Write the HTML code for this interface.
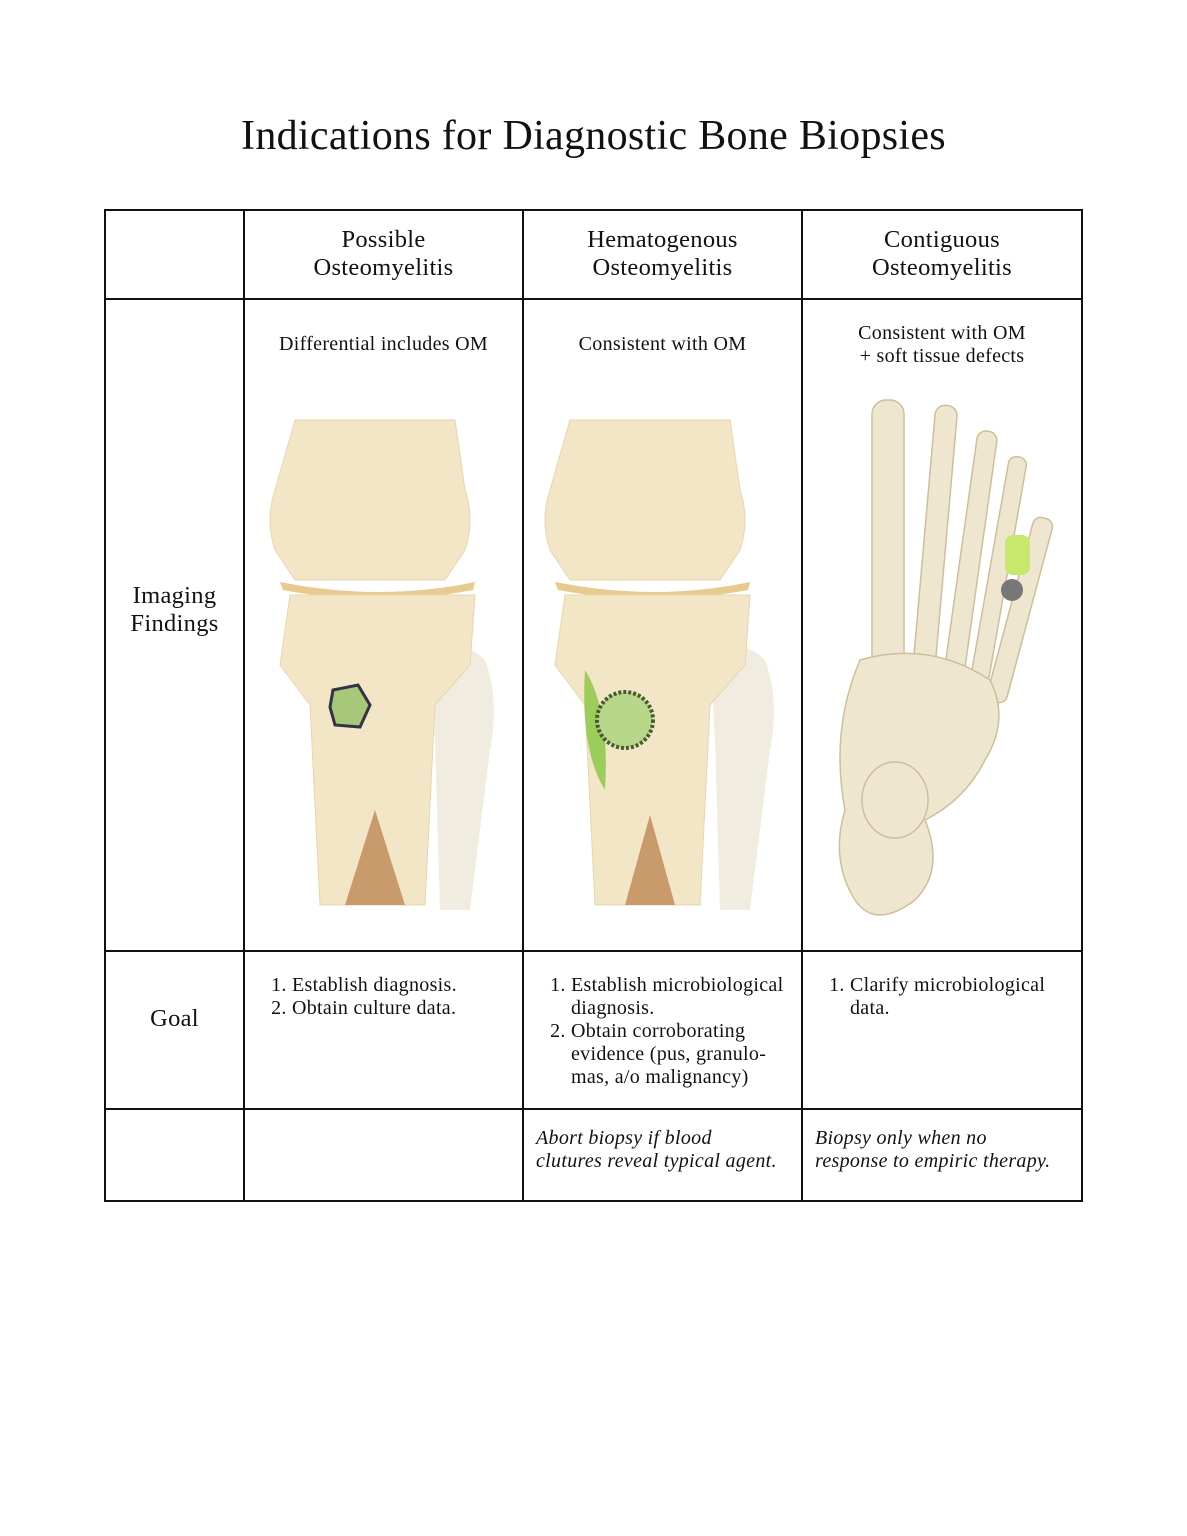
<!DOCTYPE html>
<html><head><meta charset="utf-8"><style>
body{margin:0;background:#fff;width:1187px;height:1536px;position:relative;font-family:"Liberation Serif",serif;color:#111;overflow:hidden}
.t{position:absolute;white-space:nowrap}
.c{text-align:center}
.h{font-size:24.5px;line-height:28px;letter-spacing:0.3px}
.s{font-size:20px;line-height:23px;letter-spacing:0.3px}
ol{margin:0;padding-left:20px}
</style></head><body>
<div class="t c" style="left:0;width:1187px;top:112px;font-size:42px;letter-spacing:0.3px">Indications for Diagnostic Bone Biopsies</div>
<svg width="1187" height="1536" style="position:absolute;left:0;top:0">
<g stroke="#111" stroke-width="2" fill="none">
<rect x="105" y="210" width="977" height="991"/>
<line x1="244" y1="210" x2="244" y2="1201"/>
<line x1="523" y1="210" x2="523" y2="1201"/>
<line x1="802" y1="210" x2="802" y2="1201"/>
<line x1="105" y1="299" x2="1082" y2="299"/>
<line x1="105" y1="951" x2="1082" y2="951"/>
<line x1="105" y1="1109" x2="1082" y2="1109"/>
</g>
<g>
<path d="M440 650 q25 -10 45 10 q15 40 5 90 l-20 160 h-30 l-5 -170 q-5 -60 5 -90z" fill="#f1ece0"/>
<path d="M295 420 h160 l10 70 q10 30 0 60 l-20 30 h-150 l-20 -30 q-10 -30 0 -60z" fill="#f3e6c6" stroke="#e7d6ae"/>
<path d="M280 582 q100 20 195 0 l-2 8 q-95 18 -190 0z" fill="#e8c98e"/>
<path d="M290 595 h185 l-5 70 l-35 40 l-10 200 h-105 l-10 -200 l-30 -40z" fill="#f3e6c6" stroke="#e7d6ae"/>
<path d="M345 905 l30 -95 l30 95z" fill="#c99a6b"/>
<path d="M333 690 l25 -5 l12 20 l-10 22 l-25 -2 l-5 -18z" fill="#a7c77a" stroke="#334" stroke-width="3"/>
</g>
<g>
<path d="M720 650 q25 -10 45 10 q15 40 5 90 l-20 160 h-30 l-5 -170 q-5 -60 5 -90z" fill="#f1ece0"/>
<path d="M570 420 h160 l10 70 q10 30 0 60 l-20 30 h-150 l-20 -30 q-10 -30 0 -60z" fill="#f3e6c6" stroke="#e7d6ae"/>
<path d="M555 582 q100 20 195 0 l-2 8 q-95 18 -190 0z" fill="#e8c98e"/>
<path d="M565 595 h185 l-5 70 l-35 40 l-10 200 h-105 l-10 -200 l-30 -40z" fill="#f3e6c6" stroke="#e7d6ae"/>
<path d="M625 905 l25 -90 l25 90z" fill="#c99a6b"/>
<path d="M585 670 q25 40 20 120 q-25 -40 -20 -120z" fill="#9ccc5a"/>
<circle cx="625" cy="720" r="28" fill="#b7d88a" stroke="#4a5a30" stroke-width="4" stroke-dasharray="3 2"/>
</g>
<g fill="#efe6cf" stroke="#cdbf9b" stroke-width="1.5">
<rect x="872" y="400" width="32" height="270" rx="14"/>
<rect x="925" y="405" width="22" height="260" rx="10" transform="rotate(5 936 530)"/>
<rect x="960" y="430" width="20" height="250" rx="9" transform="rotate(8 970 560)"/>
<rect x="988" y="455" width="18" height="240" rx="8" transform="rotate(10 997 580)"/>
<rect x="1010" y="515" width="20" height="190" rx="8" transform="rotate(15 1020 610)"/>
<path d="M860 660 q70 -20 130 20 q20 40 -5 80 q-20 40 -60 60 q20 50 -10 80 q-40 30 -60 0 q-25 -40 -10 -90 q-15 -80 15 -150z"/>
<ellipse cx="895" cy="800" rx="33" ry="38"/>
</g>
<rect x="1005" y="535" width="25" height="40" rx="8" fill="#c7e86a"/>
<circle cx="1012" cy="590" r="11" fill="#777"/>
</svg>
<div class="t c h" style="left:244px;width:279px;top:226px">Possible<br>Osteomyelitis</div>
<div class="t c h" style="left:523px;width:279px;top:226px">Hematogenous<br>Osteomyelitis</div>
<div class="t c h" style="left:802px;width:280px;top:226px">Contiguous<br>Osteomyelitis</div>
<div class="t c s" style="left:244px;width:279px;top:333px">Differential includes OM</div>
<div class="t c s" style="left:523px;width:279px;top:333px">Consistent with OM</div>
<div class="t c s" style="left:802px;width:280px;top:322px">Consistent with OM<br>+ soft tissue defects</div>
<div class="t c h" style="left:105px;width:139px;top:582px">Imaging<br>Findings</div>
<div class="t c h" style="left:105px;width:139px;top:1005px">Goal</div>
<div class="t s" style="left:272px;top:974px"><ol><li>Establish diagnosis.</li><li>Obtain culture data.</li></ol></div>
<div class="t s" style="left:551px;top:974px"><ol><li>Establish microbiological<br>diagnosis.</li><li>Obtain corroborating<br>evidence (pus, granulo-<br>mas, a/o malignancy)</li></ol></div>
<div class="t s" style="left:830px;top:974px"><ol><li>Clarify microbiological<br>data.</li></ol></div>
<div class="t s" style="left:536px;top:1127px;font-style:italic">Abort biopsy if blood<br>clutures reveal typical agent.</div>
<div class="t s" style="left:815px;top:1127px;font-style:italic">Biopsy only when no<br>response to empiric therapy.</div>
</body></html>
